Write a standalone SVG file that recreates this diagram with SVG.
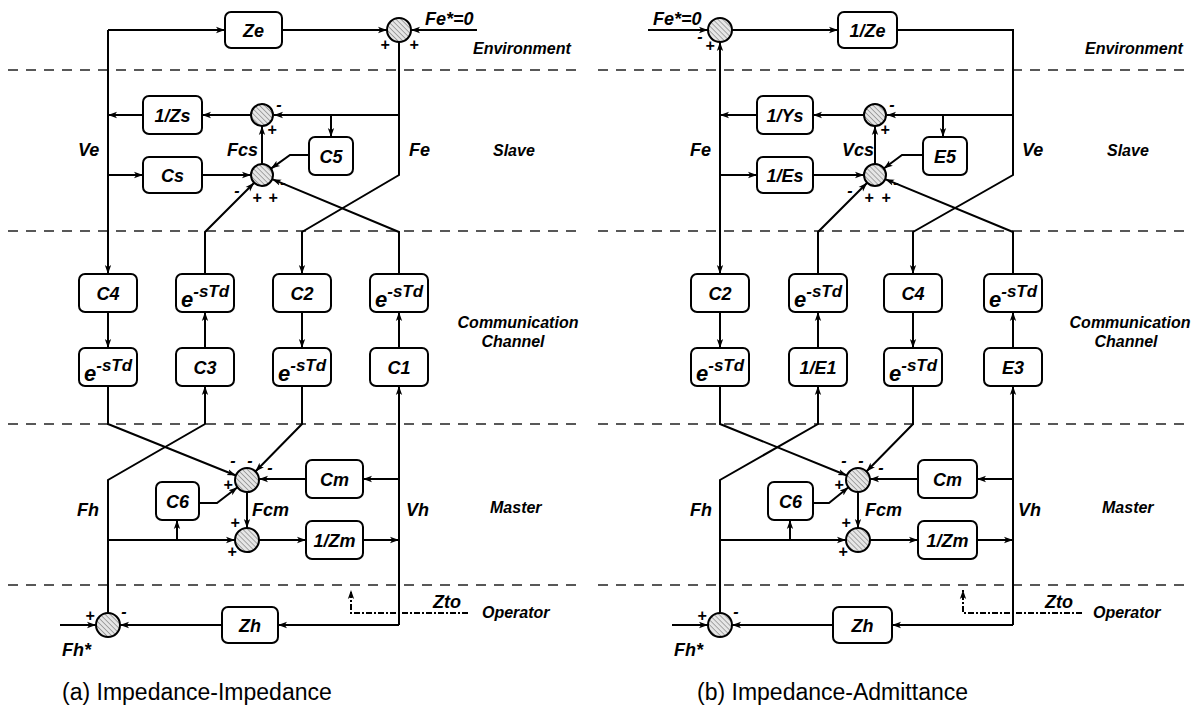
<svg xmlns="http://www.w3.org/2000/svg" width="1196" height="721" viewBox="0 0 1196 721">
<style>
.bx{fill:#fff;stroke:#000;stroke-width:2}
.sm{fill:url(#h);stroke:#000;stroke-width:2}
.w{fill:none;stroke:#000;stroke-width:2;marker-end:url(#a)}
.n{fill:none;stroke:#000;stroke-width:2}
.dd{fill:none;stroke:#000;stroke-width:2;stroke-dasharray:6 2 2 2;marker-end:url(#a)}
.sep{fill:none;stroke:#222;stroke-width:1.5;stroke-dasharray:10 8}
text{font-family:"Liberation Sans",Arial,sans-serif;fill:#000}
.l{font-size:18px;font-weight:bold;font-style:italic}
.c{text-anchor:middle}
.s{font-size:16px;font-weight:bold;font-style:italic}
.g{font-size:16px;font-weight:bold;font-style:italic;text-anchor:middle}
.e{font-size:22px;font-weight:bold;font-style:italic}
.p{font-size:17px}
.cap{font-size:23px}
</style>
<defs>
<marker id="a" viewBox="0 0 10 10" refX="10" refY="5" markerWidth="9" markerHeight="9" markerUnits="userSpaceOnUse" orient="auto"><path d="M0,1.5 L10,5 L0,8.5 L2.5,5 z" fill="#000"/></marker>
<pattern id="h" width="3.5" height="3.5" patternUnits="userSpaceOnUse" patternTransform="rotate(-45)"><rect width="3.5" height="3.5" fill="#e6e6e6"/><line x1="0" y1="0" x2="0" y2="3.5" stroke="#777" stroke-width="1.2"/></pattern>
</defs>
<rect width="1196" height="721" fill="#fff"/>
<g id="separators">
<path class="sep" d="M8,70 H576 M8,231 H576 M8,424 H576 M8,585 H576"/>
<path class="sep" d="M598,70 H1190 M598,231 H1190 M598,424 H1190 M598,585 H1190"/>
</g>
<g id="connectors">
<path class="w" d="M108,30 H225"/>
<path class="w" d="M108,30 V274"/>
<path class="w" d="M282,30 H387"/>
<path class="w" d="M477,30 H411"/>
<path class="w" d="M399,42 V175 L302,232 V274"/>
<path class="w" d="M399,115 H274"/>
<path class="w" d="M331,115 V137"/>
<path class="w" d="M251,115 H202"/>
<path class="w" d="M143,115 H108"/>
<path class="w" d="M108,175 H143"/>
<path class="w" d="M202,175 H251"/>
<path class="w" d="M262,164 V126"/>
<path class="w" d="M309,155 H290 L271,168.6"/>
<path class="w" d="M205,274 V232 L254.2,182.8"/>
<path class="w" d="M399,274 V232 L272.2,179.2"/>
<path class="w" d="M108,312 V348"/>
<path class="w" d="M205,348 V312"/>
<path class="w" d="M302,312 V348"/>
<path class="w" d="M399,348 V312"/>
<path class="w" d="M108,386 V424 L235.9,475.5"/>
<path class="w" d="M108,613 V480 L205,424 V386"/>
<path class="w" d="M302,386 V424 L255.4,471.5"/>
<path class="w" d="M399,625 V386"/>
<path class="w" d="M399,479 H363"/>
<path class="w" d="M306,479 H259"/>
<path class="w" d="M247,492 V528"/>
<path class="w" d="M259,540 H306"/>
<path class="w" d="M363,540 H399"/>
<path class="w" d="M108,540 H235"/>
<path class="w" d="M177,540 V520"/>
<path class="w" d="M199,503 H217 L237.5,487.3"/>
<path class="w" d="M60,625 H96"/>
<path class="w" d="M399,625 H278"/>
<path class="w" d="M222,625 H120"/>
<path class="dd" d="M468,613 H351 V590"/>

<path class="w" d="M648,30 H708"/>
<path class="w" d="M720,115 V42"/>
<path class="w" d="M720,115 V274"/>
<path class="w" d="M732,30 H838"/>
<path class="w" d="M897,30 H1013 V175 L913,232 V274"/>
<path class="w" d="M1013,115 H887"/>
<path class="w" d="M943,115 V137"/>
<path class="w" d="M864,115 H813"/>
<path class="w" d="M757,115 H720"/>
<path class="w" d="M720,175 H757"/>
<path class="w" d="M813,175 H864"/>
<path class="w" d="M875,164 V126"/>
<path class="w" d="M923,155 H902 L883.8,168.5"/>
<path class="w" d="M818,274 V232 L867.2,182.8"/>
<path class="w" d="M1013,274 V232 L885.2,179.2"/>
<path class="w" d="M720,312 V348"/>
<path class="w" d="M818,348 V312"/>
<path class="w" d="M913,312 V348"/>
<path class="w" d="M1013,348 V312"/>
<path class="w" d="M720,386 V424 L846.9,475.5"/>
<path class="w" d="M720,613 V480 L818,424 V386"/>
<path class="w" d="M913,386 V424 L866.4,471.5"/>
<path class="w" d="M1013,625 V386"/>
<path class="w" d="M1013,479 H977"/>
<path class="w" d="M918,479 H870"/>
<path class="w" d="M858,492 V528"/>
<path class="w" d="M870,540 H918"/>
<path class="w" d="M977,540 H1013"/>
<path class="w" d="M720,540 H846"/>
<path class="w" d="M790,540 V520"/>
<path class="w" d="M813,503 H829 L848.5,487.3"/>
<path class="w" d="M672,625 H708"/>
<path class="w" d="M1013,625 H892"/>
<path class="w" d="M833,625 H732"/>
<path class="dd" d="M1082,613 H963 V590"/>
</g>

<!-- Left diagram nodes -->
<g id="L-Ze"><rect class="bx" x="225" y="12" width="57" height="36" rx="6"/><text class="l c" x="253.5" y="36.5">Ze</text></g>
<g id="L-sumE"><circle class="sm" cx="399" cy="30" r="12"/><text class="g" x="385" y="50">+</text><text class="g" x="414" y="50">+</text></g>
<g id="L-Fe0"><text class="l" x="425" y="25">Fe*=0</text></g>
<g id="L-Zs"><rect class="bx" x="143" y="96" width="59" height="38" rx="6"/><text class="l c" x="172.5" y="121.5">1/Zs</text></g>
<g id="L-sum2"><circle class="sm" cx="262" cy="115" r="11"/><text class="g" x="279" y="110">-</text><text class="g" x="272" y="135">+</text></g>
<g id="L-Cs"><rect class="bx" x="143" y="157" width="59" height="36" rx="6"/><text class="l c" x="172.5" y="181.5">Cs</text></g>
<g id="L-sum3"><circle class="sm" cx="262" cy="175" r="11"/><text class="g" x="283" y="188">-</text><text class="g" x="237" y="196">-</text><text class="g" x="257" y="203">+</text><text class="g" x="273" y="203">+</text></g>
<g id="L-C5"><rect class="bx" x="309" y="137" width="44" height="38" rx="6"/><text class="l c" x="331" y="162.5">C5</text></g>
<g id="L-C4"><rect class="bx" x="79" y="274" width="58" height="38" rx="6"/><text class="l c" x="108" y="299.5">C4</text></g>
<g id="L-D1"><rect class="bx" x="79" y="348" width="58" height="38" rx="6"/><text class="e" x="84" y="381">e<tspan class="p" dy="-10">-sTd</tspan></text></g>
<g id="L-D2"><rect class="bx" x="176" y="274" width="58" height="38" rx="6"/><text class="e" x="181" y="307">e<tspan class="p" dy="-10">-sTd</tspan></text></g>
<g id="L-C3"><rect class="bx" x="176" y="348" width="58" height="38" rx="6"/><text class="l c" x="205" y="373.5">C3</text></g>
<g id="L-C2"><rect class="bx" x="273" y="274" width="58" height="38" rx="6"/><text class="l c" x="302" y="299.5">C2</text></g>
<g id="L-D3"><rect class="bx" x="273" y="348" width="58" height="38" rx="6"/><text class="e" x="278" y="381">e<tspan class="p" dy="-10">-sTd</tspan></text></g>
<g id="L-D4"><rect class="bx" x="370" y="274" width="58" height="38" rx="6"/><text class="e" x="375" y="307">e<tspan class="p" dy="-10">-sTd</tspan></text></g>
<g id="L-C1"><rect class="bx" x="370" y="348" width="58" height="38" rx="6"/><text class="l c" x="399" y="373.5">C1</text></g>
<g id="L-sum4"><circle class="sm" cx="247" cy="480" r="12"/><text class="g" x="233" y="466">-</text><text class="g" x="250" y="466">-</text><text class="g" x="270" y="473">-</text><text class="g" x="228" y="490">+</text></g>
<g id="L-Cm"><rect class="bx" x="306" y="460" width="57" height="38" rx="6"/><text class="l c" x="334.5" y="485.5">Cm</text></g>
<g id="L-C6"><rect class="bx" x="156" y="482" width="43" height="38" rx="6"/><text class="l c" x="177.5" y="507.5">C6</text></g>
<g id="L-sum6"><circle class="sm" cx="247" cy="540" r="12"/><text class="g" x="235" y="528">+</text><text class="g" x="232" y="557">+</text></g>
<g id="L-Zm"><rect class="bx" x="306" y="521" width="57" height="38" rx="6"/><text class="l c" x="334.5" y="546.5">1/Zm</text></g>
<g id="L-sum5"><circle class="sm" cx="108" cy="625" r="12"/><text class="g" x="90" y="621">+</text><text class="g" x="124" y="617">-</text></g>
<g id="L-Zh"><rect class="bx" x="222" y="607" width="56" height="36" rx="6"/><text class="l c" x="250" y="631.5">Zh</text></g>
<g id="L-labels">
<text class="l" x="78" y="156">Ve</text>
<text class="l" x="227" y="156">Fcs</text>
<text class="l" x="409" y="156">Fe</text>
<text class="l" x="77" y="516">Fh</text>
<text class="l" x="252" y="516">Fcm</text>
<text class="l" x="406" y="516">Vh</text>
<text class="l" x="62" y="656">Fh*</text>
<text class="l" x="433" y="608">Zto</text>
<text class="s" x="473" y="54">Environment</text>
<text class="s" x="493" y="156">Slave</text>
<text class="s c" x="518" y="328">Communication</text>
<text class="s c" x="513" y="347">Channel</text>
<text class="s" x="490" y="513">Master</text>
<text class="s" x="482" y="618">Operator</text>
<text class="cap" x="62" y="700">(a) Impedance-Impedance</text>
</g>

<!-- Right diagram nodes -->
<g id="R-sumE"><circle class="sm" cx="720" cy="30" r="12"/><text class="g" x="700" y="42">-</text><text class="g" x="710" y="51">+</text></g>
<g id="R-Fe0"><text class="l" x="653" y="25">Fe*=0</text></g>
<g id="R-Ze"><rect class="bx" x="838" y="12" width="59" height="36" rx="6"/><text class="l c" x="867.5" y="36.5">1/Ze</text></g>
<g id="R-Ys"><rect class="bx" x="757" y="96" width="56" height="38" rx="6"/><text class="l c" x="785" y="121.5">1/Ys</text></g>
<g id="R-sum2"><circle class="sm" cx="875" cy="115" r="11"/><text class="g" x="892" y="110">-</text><text class="g" x="885" y="135">+</text></g>
<g id="R-Es"><rect class="bx" x="757" y="157" width="56" height="36" rx="6"/><text class="l c" x="785" y="181.5">1/Es</text></g>
<g id="R-sum3"><circle class="sm" cx="875" cy="175" r="11"/><text class="g" x="896" y="188">-</text><text class="g" x="850" y="196">-</text><text class="g" x="869" y="203">+</text><text class="g" x="886" y="203">+</text></g>
<g id="R-E5"><rect class="bx" x="923" y="137" width="44" height="38" rx="6"/><text class="l c" x="945" y="162.5">E5</text></g>
<g id="R-C2"><rect class="bx" x="691" y="274" width="58" height="38" rx="6"/><text class="l c" x="720" y="299.5">C2</text></g>
<g id="R-D1"><rect class="bx" x="691" y="348" width="58" height="38" rx="6"/><text class="e" x="696" y="381">e<tspan class="p" dy="-10">-sTd</tspan></text></g>
<g id="R-D2"><rect class="bx" x="789" y="274" width="58" height="38" rx="6"/><text class="e" x="794" y="307">e<tspan class="p" dy="-10">-sTd</tspan></text></g>
<g id="R-E1"><rect class="bx" x="789" y="348" width="58" height="38" rx="6"/><text class="l c" x="818" y="373.5">1/E1</text></g>
<g id="R-C4"><rect class="bx" x="884" y="274" width="58" height="38" rx="6"/><text class="l c" x="913" y="299.5">C4</text></g>
<g id="R-D3"><rect class="bx" x="884" y="348" width="58" height="38" rx="6"/><text class="e" x="889" y="381">e<tspan class="p" dy="-10">-sTd</tspan></text></g>
<g id="R-D4"><rect class="bx" x="984" y="274" width="58" height="38" rx="6"/><text class="e" x="989" y="307">e<tspan class="p" dy="-10">-sTd</tspan></text></g>
<g id="R-E3"><rect class="bx" x="984" y="348" width="58" height="38" rx="6"/><text class="l c" x="1013" y="373.5">E3</text></g>
<g id="R-sum4"><circle class="sm" cx="858" cy="480" r="12"/><text class="g" x="844" y="466">-</text><text class="g" x="861" y="466">-</text><text class="g" x="881" y="473">-</text><text class="g" x="839" y="490">+</text></g>
<g id="R-Cm"><rect class="bx" x="918" y="460" width="59" height="38" rx="6"/><text class="l c" x="947.5" y="485.5">Cm</text></g>
<g id="R-C6"><rect class="bx" x="768" y="482" width="45" height="38" rx="6"/><text class="l c" x="790.5" y="507.5">C6</text></g>
<g id="R-sum6"><circle class="sm" cx="858" cy="540" r="12"/><text class="g" x="846" y="528">+</text><text class="g" x="843" y="557">+</text></g>
<g id="R-Zm"><rect class="bx" x="918" y="521" width="59" height="38" rx="6"/><text class="l c" x="947.5" y="546.5">1/Zm</text></g>
<g id="R-sum5"><circle class="sm" cx="720" cy="625" r="12"/><text class="g" x="702" y="621">+</text><text class="g" x="736" y="617">-</text></g>
<g id="R-Zh"><rect class="bx" x="833" y="607" width="59" height="36" rx="6"/><text class="l c" x="862.5" y="631.5">Zh</text></g>
<g id="R-labels">
<text class="l" x="690" y="156">Fe</text>
<text class="l" x="842" y="156">Vcs</text>
<text class="l" x="1022" y="156">Ve</text>
<text class="l" x="690" y="516">Fh</text>
<text class="l" x="865" y="516">Fcm</text>
<text class="l" x="1018" y="516">Vh</text>
<text class="l" x="674" y="656">Fh*</text>
<text class="l" x="1045" y="608">Zto</text>
<text class="s" x="1085" y="54">Environment</text>
<text class="s" x="1107" y="156">Slave</text>
<text class="s c" x="1130" y="328">Communication</text>
<text class="s c" x="1126" y="347">Channel</text>
<text class="s" x="1102" y="513">Master</text>
<text class="s" x="1093" y="618">Operator</text>
<text class="cap" x="697" y="700">(b) Impedance-Admittance</text>
</g>
</svg>
